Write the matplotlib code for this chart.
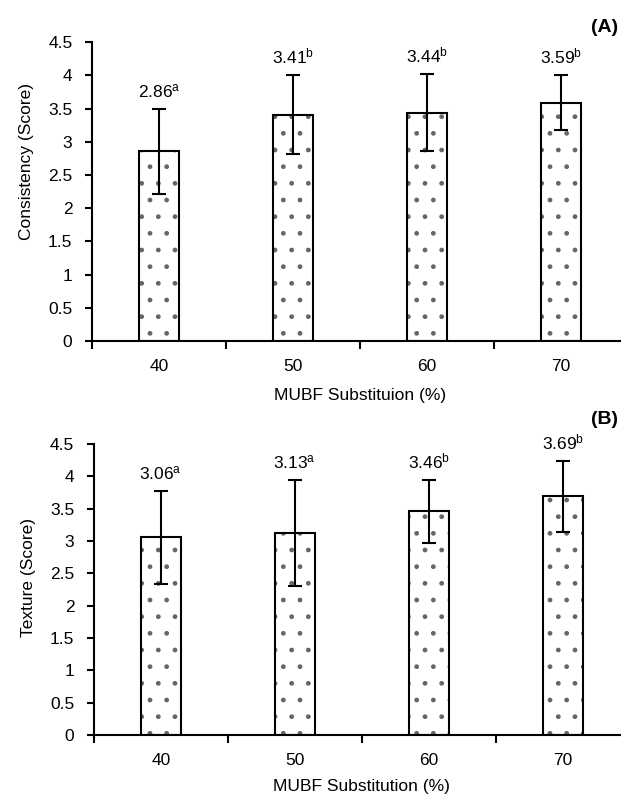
import matplotlib
matplotlib.use("Agg")
import matplotlib.pyplot as plt
import numpy as np

plt.rcParams['font.family'] = ['Liberation Sans', 'DejaVu Sans']
plt.rcParams['hatch.linewidth'] = 1.0

categories = ["40", "50", "60", "70"]
consistency = [2.86, 3.41, 3.44, 3.59]
consistency_err = [0.64, 0.59, 0.58, 0.41]
consistency_letters = ["a", "b", "b", "b"]
texture = [3.06, 3.13, 3.46, 3.69]
texture_err = [0.72, 0.82, 0.49, 0.55]
texture_letters = ["a", "a", "b", "b"]
yticks = [0, 0.5, 1, 1.5, 2, 2.5, 3, 3.5, 4, 4.5]
ytick_labels = ["0", "0.5", "1", "1.5", "2", "2.5", "3", "3.5", "4", "4.5"]

fig = plt.figure(figsize=(6.21, 7.95), dpi=100)
ax1 = fig.add_axes([0.148, 0.571, 0.863, 0.376])
ax2 = fig.add_axes([0.151, 0.0755, 0.863, 0.366])

def draw(ax, vals, errs, letters, ylabel, ylabel_y, xlabel, xlabelpad, panel, panel_y):
    x = np.arange(len(categories))
    ax.bar(x, vals, width=0.3, color='white', edgecolor='#666666', hatch='.', linewidth=0, zorder=2)
    ax.bar(x, vals, width=0.3, color='none', edgecolor='black', linewidth=1.5, zorder=3)
    ax.errorbar(x, vals, yerr=errs, fmt='none', ecolor='black', elinewidth=1.5, capsize=5, capthick=1.5, zorder=4)
    for xi, v, e, l in zip(x, vals, errs, letters):
        ax.text(xi, v + e + 0.13, r'$\mathregular{%.2f^{%s}}$' % (v, l), ha='center', va='bottom', fontsize=12.5)
    ax.set_xlim(-0.5, 3.5)
    ax.set_ylim(0, 4.5)
    ax.set_yticks(yticks)
    ax.set_yticklabels(ytick_labels, fontsize=12.5)
    ax.set_xticks(x)
    ax.set_xticklabels(categories, fontsize=12.5)
    ax.tick_params(axis='x', which='major', length=0, pad=13)
    ax.set_xticks(np.arange(-0.5, 4.0, 1.0), minor=True)
    ax.tick_params(axis='x', which='minor', length=6, width=1.5, direction='out')
    ax.tick_params(axis='y', length=5, width=1.5, direction='out', pad=9)
    for s in ['top', 'right']:
        ax.spines[s].set_visible(False)
    for s in ['left', 'bottom']:
        ax.spines[s].set_linewidth(1.5)
    ax.set_ylabel(ylabel, fontsize=12.5, labelpad=10)
    ax.yaxis.label.set_y(ylabel_y)
    ax.set_xlabel(xlabel, fontsize=12.5, labelpad=xlabelpad)
    fig.text(0.995, panel_y, panel, ha='right', va='center', fontsize=14, fontweight='bold')

draw(ax1, consistency, consistency_err, consistency_letters, "Consistency (Score)", 0.60,
     "MUBF Substituion (%)", 10, "(A)", 0.966)
draw(ax2, texture, texture_err, texture_letters, "Texture (Score)", 0.54,
     "MUBF Substitution (%)", 8, "(B)", 0.4717)

fig.savefig("out.png", dpi=100)
